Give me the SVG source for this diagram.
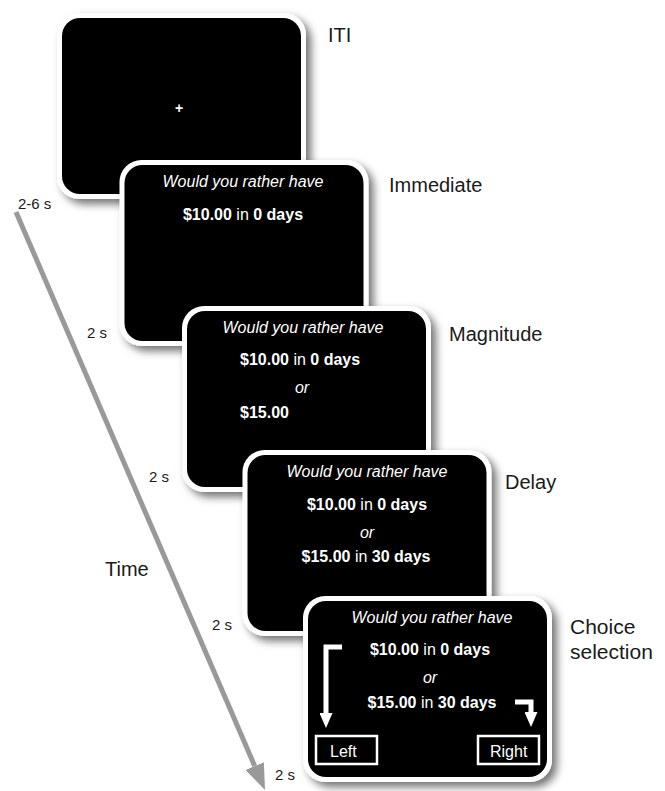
<svg xmlns="http://www.w3.org/2000/svg" width="665" height="791" viewBox="0 0 665 791">
<style>
.frame{fill:#fff;filter:url(#sh)}
.screen{fill:#000}
.q{font-family:"Liberation Sans",Arial,sans-serif;font-size:16px;fill:#fff;font-style:italic;text-anchor:middle}
.t{font-family:"Liberation Sans",Arial,sans-serif;font-size:16px;fill:#fff}
.b{font-weight:bold}
.lbl{font-family:"Liberation Sans",Arial,sans-serif;font-size:20px;fill:#1a1a1a}
.big{font-size:21px}
.tm{font-family:"Liberation Sans",Arial,sans-serif;font-size:15px;fill:#1a1a1a}
.box{fill:none;stroke:#fff;stroke-width:2.5}
.warr{fill:none;stroke:#fff;stroke-width:5;marker-end:url(#wh)}
</style>
<defs>
<filter id="sh" x="-10%" y="-10%" width="130%" height="130%">
<feDropShadow dx="5" dy="5" stdDeviation="4" flood-color="#000" flood-opacity="0.55"/>
</filter>
<marker id="gh" viewBox="0 0 26 20" refX="0" refY="10" markerWidth="26" markerHeight="20" markerUnits="userSpaceOnUse" orient="auto">
<path d="M0,0 L26,10 L0,20 z" fill="#999"/>
</marker>
<marker id="wh" viewBox="0 0 15 13" refX="0" refY="6.5" markerWidth="15" markerHeight="13" markerUnits="userSpaceOnUse" orient="auto">
<path d="M0,0 L15,6.5 L0,13 z" fill="#fff"/>
</marker>
</defs>
<rect width="665" height="791" fill="#fff"/>

<g id="connectors">
<line x1="16" y1="212" x2="254.7" y2="766.1" stroke="#999" stroke-width="5" marker-end="url(#gh)"/>
</g>

<g id="timelabels">
<text class="tm" x="18" y="209">2-6 s</text>
<text class="tm" x="87" y="338">2 s</text>
<text class="tm" x="149" y="482">2 s</text>
<text class="tm" x="212" y="630">2 s</text>
<text class="tm" x="275" y="780">2 s</text>
<text class="lbl" x="105" y="576">Time</text>
</g>

<g id="iti">
<rect class="frame" x="57" y="13" width="249" height="186" rx="22"/>
<rect class="screen" x="62" y="18" width="239" height="176" rx="18"/>
<text x="179" y="113" font-family="Liberation Sans,Arial,sans-serif" font-size="14" font-weight="bold" fill="#fff" text-anchor="middle">+</text>
<text class="lbl" x="328" y="42">ITI</text>
</g>

<g id="immediate">
<rect class="frame" x="119.5" y="160" width="249" height="186" rx="22"/>
<rect class="screen" x="124.5" y="165" width="239" height="176" rx="18"/>
<text class="q" x="243" y="187">Would you rather have</text>
<text class="t" x="243" y="220" text-anchor="middle"><tspan class="b">$10.00</tspan> in <tspan class="b">0 days</tspan></text>
<text class="lbl" x="389" y="192">Immediate</text>
</g>

<g id="magnitude">
<rect class="frame" x="182" y="306" width="249" height="186" rx="22"/>
<rect class="screen" x="187" y="311" width="239" height="176" rx="18"/>
<text class="q" x="303" y="333">Would you rather have</text>
<text class="t" x="240" y="365"><tspan class="b">$10.00</tspan> in <tspan class="b">0 days</tspan></text>
<text class="q" x="302" y="393">or</text>
<text class="t b" x="240" y="418">$15.00</text>
<text class="lbl" x="449" y="341">Magnitude</text>
</g>

<g id="delay">
<rect class="frame" x="242.5" y="450" width="249" height="186" rx="22"/>
<rect class="screen" x="247.5" y="455" width="239" height="176" rx="18"/>
<text class="q" x="367" y="477">Would you rather have</text>
<text class="t" x="367" y="510" text-anchor="middle"><tspan class="b">$10.00</tspan> in <tspan class="b">0 days</tspan></text>
<text class="q" x="367" y="538">or</text>
<text class="t" x="366" y="562" text-anchor="middle"><tspan class="b">$15.00</tspan> in <tspan class="b">30 days</tspan></text>
<text class="lbl" x="505" y="489">Delay</text>
</g>

<g id="choice">
<rect class="frame" x="303" y="596" width="249" height="186" rx="22"/>
<rect class="screen" x="308" y="601" width="239" height="176" rx="18"/>
<text class="q" x="432" y="623">Would you rather have</text>
<text class="t" x="430" y="655" text-anchor="middle"><tspan class="b">$10.00</tspan> in <tspan class="b">0 days</tspan></text>
<text class="q" x="430" y="683">or</text>
<text class="t" x="432" y="708" text-anchor="middle"><tspan class="b">$15.00</tspan> in <tspan class="b">30 days</tspan></text>
<path class="warr" d="M342,647 H326 V713"/>
<path class="warr" d="M515,702 H531 V712"/>
<rect class="box" x="316" y="736" width="61" height="28"/>
<text class="t" x="330" y="757">Left</text>
<rect class="box" x="478" y="736" width="61" height="28"/>
<text class="t" x="490" y="757">Right</text>
<text class="lbl big" x="570" y="634">Choice</text>
<text class="lbl big" x="570" y="659">selection</text>
</g>
</svg>
